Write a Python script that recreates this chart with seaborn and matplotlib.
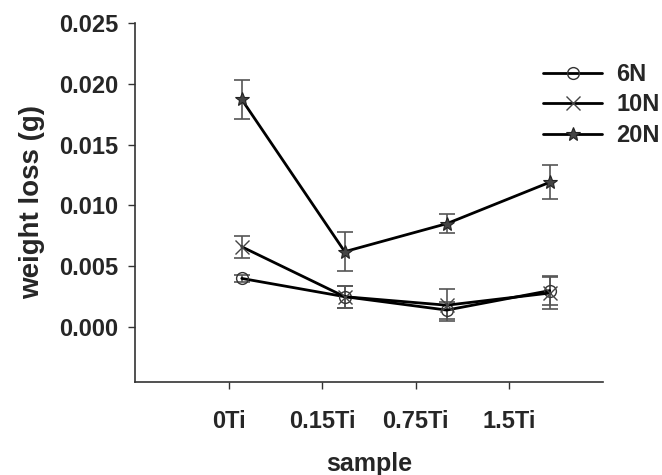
import matplotlib
matplotlib.use("Agg")
import matplotlib.pyplot as plt
import seaborn as sns
import pandas as pd

# Wear test results: mean weight loss and its spread for each load
samples = ["0Ti", "0.15Ti", "0.75Ti", "1.5Ti"]
loads = ["6N", "10N", "20N"]
loss_6n = [0.0040, 0.0025, 0.0014, 0.0030]
loss_10n = [0.0066, 0.0025, 0.0018, 0.0028]
loss_20n = [0.0187, 0.0062, 0.0085, 0.0119]
err_6n = [0.0003, 0.0009, 0.0007, 0.0012]
err_10n = [0.0009, 0.0009, 0.0013, 0.0013]
err_20n = [0.0016, 0.0016, 0.0008, 0.0014]

# Tick slots on the category axis and the offset positions of the plotted points
tick_pos = [1, 2, 3, 4]
point_pos = [1.14, 2.24, 3.33, 4.43]

sns.set_theme(style="ticks")
plt.rcParams["font.family"] = ["Liberation Sans", "DejaVu Sans"]
plt.rcParams["font.weight"] = "bold"

rows = []
for load, vals, errs in zip(loads, [loss_6n, loss_10n, loss_20n], [err_6n, err_10n, err_20n]):
    for s, p, v, e in zip(samples, point_pos, vals, errs):
        rows.append({"sample": s, "pos": p, "load": load, "loss": v, "err": e})
df = pd.DataFrame(rows)

fig = plt.figure(figsize=(6.62, 4.75), dpi=100)
ax = fig.add_axes([0.204, 0.196, 0.707, 0.756])

styles = {
    "6N": dict(marker="o", markersize=8.5, markerfacecolor="none", markeredgecolor="#333333", markeredgewidth=1.0),
    "10N": dict(marker="x", markersize=9.5, markeredgecolor="#444444", markeredgewidth=1.0),
    "20N": dict(marker="*", markersize=10, markerfacecolor="#444444", markeredgecolor="#222222", markeredgewidth=0.8),
}

for load in loads:
    sub = df[df["load"] == load]
    ax.errorbar(sub["pos"], sub["loss"], yerr=sub["err"], fmt="none",
                ecolor="#555555", elinewidth=1.2, capsize=6, capthick=1.2, zorder=2)
    sns.lineplot(data=sub, x="pos", y="loss", ax=ax, color="black", linewidth=2.0,
                 label=load, zorder=3, **styles[load])

ax.set_xlim(0, 5)
ax.set_ylim(-0.0045, 0.025)
ax.set_xticks(tick_pos)
ax.set_xticklabels(samples)
ax.set_yticks([0.0, 0.005, 0.010, 0.015, 0.020, 0.025])
ax.set_yticklabels(["0.000", "0.005", "0.010", "0.015", "0.020", "0.025"])

for side in ["top", "right"]:
    ax.spines[side].set_visible(False)
for side in ["left", "bottom"]:
    ax.spines[side].set_color("#333333")
    ax.spines[side].set_linewidth(1.2)

ax.tick_params(axis="x", direction="out", length=5, width=1.0, color="#333333",
               pad=15, labelsize=17)
ax.tick_params(axis="y", direction="out", length=5, width=1.0, color="#333333",
               pad=7, labelsize=17)
for lab in ax.get_xticklabels() + ax.get_yticklabels():
    lab.set_fontweight("bold")

ax.set_xlabel("sample", fontsize=18, fontweight="bold", labelpad=14)
ax.set_ylabel("weight loss (g)", fontsize=20, fontweight="bold", labelpad=10)

leg = ax.legend(loc="upper right", bbox_to_anchor=(1.142, 0.915), frameon=False,
                fontsize=17, handlelength=2.5, handletextpad=0.6,
                labelspacing=0.32, borderaxespad=0)
for t in leg.get_texts():
    t.set_fontweight("bold")

fig.savefig("out.png", dpi=100)
